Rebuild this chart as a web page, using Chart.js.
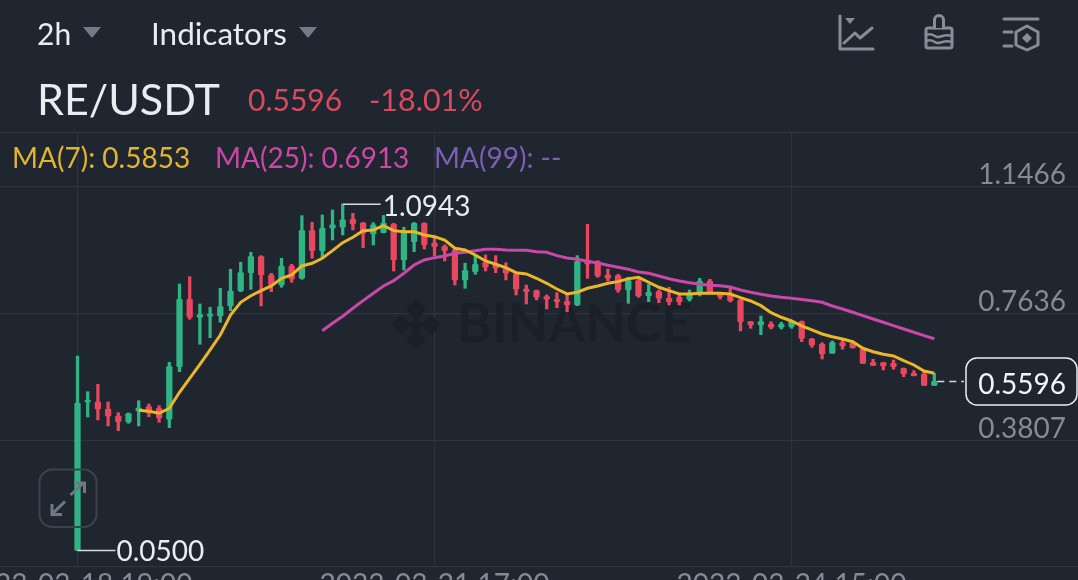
<!DOCTYPE html>
<html>
<head>
<meta charset="utf-8">
<script src="https://cdn.jsdelivr.net/npm/chart.js@4/dist/chart.umd.min.js"></script>
<style>
html,body{margin:0;padding:0;width:1078px;height:580px;overflow:hidden;background:#1f2630;font-family:Lato,sans-serif}
#c{position:absolute;left:0;top:0}
.t{position:absolute;white-space:nowrap;line-height:1}
svg{position:absolute;left:0;top:0}
</style>
</head>
<body>
<canvas id="c" width="1078" height="620" style="width:1078px;height:620px"></canvas>
<svg width="1078" height="580" viewBox="0 0 1078 580" fill="none">
  <path d="M83 27h18l-9 11z M299 27h18l-9 11z" fill="#737b88"/>
  <g stroke="#868d99" stroke-width="3" stroke-linecap="round" stroke-linejoin="round">
    <path d="M840 16V49H873"/><path d="M845 18h10l-5 6z" fill="#868d99" stroke="none"/>
    <path d="M844 43L855 33L860 38L872 28"/>
    <rect x="926" y="28" width="26" height="20" rx="2"/>
    <path d="M934.5 28V20a4.5 4.5 0 0 1 9 0V28" fill="#1f2630"/>
    <path d="M926 35c8-3 8 3 13 2s6-3 13-1M926 41c8-3 8 3 13 2s6-3 13-1" stroke-width="2.5"/>
    <path d="M1004 19H1038M1004 32H1012M1004 46H1012"/>
    <path d="M1027 26L1038 32V45L1027 50L1016 45V32Z"/>
    <path d="M1027 33l5 5l-5 5l-5-5z" fill="#868d99" stroke="none"/>
  </g>
  <rect x="39.5" y="469.5" width="57" height="57.5" rx="13" stroke="#3b434f" stroke-width="2"/>
  <g stroke="#6f7884" stroke-width="3" stroke-linejoin="miter">
    <path d="M65 501.5L52 514M52 504V514.5H62"/>
    <path d="M70.5 495L84 482.5M74 483H84.5V493"/>
  </g>
</svg>
<div class="t" style="left:37px;top:18px;font-size:30px;color:#e9ecf1">2h</div>
<div class="t" style="left:151px;top:18px;font-size:31.5px;color:#e9ecf1">Indicators</div>
<div class="t" style="left:37px;top:77px;font-size:43px;color:#e9ecf1">RE/USDT</div>
<div class="t" style="left:248px;top:84px;font-size:30px;color:#d94a5e">0.5596</div>
<div class="t" style="left:369px;top:84px;font-size:30.5px;color:#d94a5e">-18.01%</div>
<div class="t" style="left:12px;top:143px;font-size:28px;color:#e3b52f">MA(7): 0.5853</div>
<div class="t" style="left:215px;top:143px;font-size:28px;color:#cf47a6">MA(25): 0.6913</div>
<div class="t" style="left:434px;top:143px;font-size:28px;color:#7a5fb4">MA(99): --</div>
<script>
const xTickIndex = [0, 35, 70];
const xTickLabels = ["2023-03-18 19:00", "2023-03-21 17:00", "2023-03-24 15:00"];
const yTicks = [0.3807, 0.7636, 1.1466];

const opens = [0.0500,0.4976,0.4976,0.4765,0.4554,0.4373,0.4705,0.4835,0.4786,0.4455,0.6041,0.8074,0.7531,0.7561,0.7570,0.7872,0.8324,0.8876,0.9359,0.8807,0.8505,0.9078,0.8707,1.0143,0.9540,1.0215,1.0245,1.0486,1.0375,1.0043,1.0083,1.0345,0.9259,0.9811,1.0366,0.9772,0.9660,0.9561,0.8656,0.8906,0.9178,0.9108,0.9009,0.8837,0.8384,0.8333,0.8152,0.8074,0.8001,0.7902,0.9259,0.9208,0.8807,0.8786,0.8354,0.8635,0.8182,0.8303,0.8104,0.8134,0.8074,0.8255,0.8626,0.8249,0.8204,0.8053,0.7398,0.7299,0.7329,0.7229,0.7247,0.7398,0.6876,0.6717,0.6445,0.6765,0.6747,0.6566,0.6162,0.6162,0.6143,0.5993,0.5842,0.5821,0.5474];
const highs = [0.6364,0.5287,0.5510,0.4976,0.4654,0.4645,0.5016,0.4916,0.4865,0.6174,0.8535,0.8755,0.7932,0.7833,0.8405,0.8979,0.9190,0.9491,0.9389,0.8858,0.9310,0.9129,1.0595,1.0396,1.0616,1.0767,1.0943,1.0668,1.0396,1.0384,1.0601,1.0366,1.0245,1.0390,1.0384,0.9962,0.9712,0.9621,0.9160,0.9410,0.9410,0.9389,0.9178,0.8876,0.8505,0.8354,0.8204,0.8273,0.8234,0.9389,1.0336,0.9238,0.8988,0.8828,0.8737,0.8755,0.8526,0.8354,0.8436,0.8204,0.8354,0.8707,0.8677,0.8255,0.8405,0.8074,0.7400,0.7570,0.7398,0.7380,0.7398,0.7419,0.6897,0.6765,0.6816,0.6846,0.6795,0.6596,0.6264,0.6174,0.6243,0.6002,0.5920,0.5890,0.5842];
const lows = [0.0500,0.4524,0.4434,0.4253,0.4111,0.4334,0.4253,0.4533,0.4364,0.4201,0.5890,0.7471,0.6717,0.6916,0.7380,0.7730,0.8303,0.8375,0.7872,0.8303,0.8436,0.8587,0.8677,0.9310,0.9341,0.9862,1.0013,1.0164,0.9630,0.9712,1.0073,0.8927,0.8958,0.9509,0.9591,0.9389,0.9229,0.8505,0.8405,0.8828,0.8927,0.8876,0.8656,0.8204,0.7932,0.8053,0.7781,0.7820,0.7700,0.7881,0.8707,0.8737,0.8626,0.8285,0.7953,0.8134,0.8001,0.7971,0.7902,0.7902,0.8023,0.8173,0.8255,0.8083,0.7992,0.7118,0.7199,0.7006,0.7178,0.7178,0.7199,0.6795,0.6626,0.6273,0.6440,0.6566,0.6596,0.6138,0.6071,0.5942,0.5963,0.5739,0.5761,0.5468,0.5468];
const closes = [0.4946,0.5037,0.4765,0.4554,0.4382,0.4630,0.4795,0.4645,0.4494,0.6041,0.8074,0.7531,0.7609,0.7621,0.7851,0.8324,0.8876,0.9359,0.8807,0.8505,0.9078,0.8686,1.0143,0.9540,1.0215,1.0315,1.0466,1.0345,1.0064,1.0315,1.0375,0.9259,1.0094,1.0366,0.9712,0.9660,0.9540,0.8656,0.8936,0.9129,0.9039,0.9009,0.8858,0.8375,0.8303,0.8134,0.8074,0.8001,0.7902,0.9208,0.9138,0.8777,0.8707,0.8354,0.8635,0.8173,0.8285,0.8104,0.8001,0.8001,0.8264,0.8626,0.8273,0.8152,0.8032,0.7398,0.7299,0.7398,0.7229,0.7320,0.7398,0.6897,0.6696,0.6424,0.6765,0.6665,0.6614,0.6143,0.6077,0.6062,0.6041,0.5821,0.5767,0.5474,0.5596];

const ma7Start = 6;
const ma7 = [0.4726,0.4696,0.4636,0.4786,0.5269,0.5691,0.6113,0.6545,0.6997,0.7600,0.7983,0.8182,0.8333,0.8475,0.8707,0.8807,0.9078,0.9160,0.9310,0.9540,0.9781,0.9944,1.0143,1.0164,1.0293,1.0143,1.0113,1.0113,1.0013,0.9962,0.9862,0.9612,0.9561,0.9410,0.9229,0.9129,0.9027,0.8876,0.8837,0.8707,0.8556,0.8384,0.8234,0.8285,0.8405,0.8475,0.8556,0.8605,0.8695,0.8737,0.8587,0.8436,0.8333,0.8234,0.8234,0.8255,0.8255,0.8255,0.8234,0.8122,0.8023,0.7881,0.7670,0.7531,0.7419,0.7269,0.7148,0.7027,0.6946,0.6876,0.6795,0.6596,0.6493,0.6415,0.6364,0.6222,0.6092,0.5911,0.5842];
const ma25Start = 24;
const ma25 = [0.7127,0.7350,0.7561,0.7802,0.8032,0.8255,0.8475,0.8635,0.8858,0.9108,0.9259,0.9329,0.9380,0.9461,0.9491,0.9540,0.9582,0.9582,0.9561,0.9552,0.9552,0.9509,0.9491,0.9389,0.9319,0.9280,0.9220,0.9169,0.9099,0.9039,0.8979,0.8897,0.8858,0.8777,0.8695,0.8626,0.8574,0.8526,0.8496,0.8484,0.8445,0.8354,0.8285,0.8224,0.8173,0.8134,0.8104,0.8068,0.8032,0.7983,0.7872,0.7781,0.7682,0.7579,0.7480,0.7380,0.7278,0.7178,0.7079,0.6976,0.6885];

const lastPrice = 0.5596, highPrice = 1.0943, lowPrice = 0.0500;
const highIndex = 26, lowIndex = 0, lastIndex = 84;

const GREEN = "#2fb583", RED = "#e8475f", GRID = "#2e3540", BG = "#1f2630";
const colors = closes.map((c, i) => c >= opens[i] ? GREEN : RED);
const fmt = v => v.toFixed(4);

const overlay = {
  id: "overlay",
  beforeDatasetsDraw(chart) {
    const { ctx, scales: { x, y } } = chart;
    ctx.save();
    const wy = y.getPixelForValue(0.7636) + 11;
    ctx.fillStyle = "#1a2028";
    ctx.font = "bold 53px Lato";
    ctx.textAlign = "left";
    ctx.textBaseline = "middle";
    ctx.fillText("BINANCE", 457, wy);
    const cx = 416, s = 29;
    ctx.translate(cx, wy);
    ctx.rotate(Math.PI / 4);
    const u = s * 0.62;
    for (const [a, b, w] of [[-u, -u, u * 0.8], [u * 0.2, -u, u * 0.8], [-u, u * 0.2, u * 0.8], [u * 0.2, u * 0.2, u * 0.8], [-u * 0.3, -u * 0.3, u * 0.6]]) {
      ctx.fillRect(a, b, w, w);
    }
    ctx.restore();
  },
  afterDatasetsDraw(chart) {
    const { ctx, scales: { x, y } } = chart;
    ctx.save();
    ctx.font = "28px Lato";
    ctx.textBaseline = "middle";
    ctx.textAlign = "left";
    ctx.strokeStyle = "#d5d9e0";
    ctx.fillStyle = "#e9ecf1";
    ctx.lineWidth = 1.5;
    const hy = y.getPixelForValue(highPrice), hx = x.getPixelForValue(highIndex);
    ctx.beginPath(); ctx.moveTo(hx, hy); ctx.lineTo(hx + 38, hy); ctx.stroke();
    ctx.fillText(fmt(highPrice), hx + 40, hy + 3);
    const ly = y.getPixelForValue(lowPrice), lx = x.getPixelForValue(lowIndex);
    ctx.beginPath(); ctx.moveTo(lx, ly); ctx.lineTo(lx + 38, ly); ctx.stroke();
    ctx.fillText(fmt(lowPrice), lx + 39, ly + 2);
    const py = y.getPixelForValue(lastPrice), px = x.getPixelForValue(lastIndex);
    ctx.setLineDash([7, 5]);
    ctx.beginPath(); ctx.moveTo(px + 3, py); ctx.lineTo(964, py); ctx.stroke();
    ctx.setLineDash([]);
    ctx.beginPath();
    ctx.roundRect(966, py - 23.5, 111, 47, 11);
    ctx.fillStyle = BG; ctx.fill();
    ctx.strokeStyle = "#e9ecf1"; ctx.stroke();
    ctx.fillStyle = "#f2f4f7";
    ctx.textAlign = "right";
    ctx.fillText(fmt(lastPrice), 1066, py + 4);
    ctx.restore();
  }
};

new Chart(document.getElementById("c"), {
  data: {
    datasets: [
      { type: "line", order: 1, data: ma25.map((v, i) => ({ x: i + ma25Start, y: v })), borderColor: "#c948a8", borderWidth: 3, pointRadius: 0, tension: 0 },
      { type: "line", order: 0, data: ma7.map((v, i) => ({ x: i + ma7Start, y: v })), borderColor: "#eab62a", borderWidth: 3, pointRadius: 0, tension: 0 },
      { type: "bar", order: 2, grouped: false, data: closes.map((c, i) => ({ x: i, y: [opens[i], c] })), backgroundColor: colors, borderWidth: 0, borderRadius: 1, borderSkipped: false, barThickness: 5.6 },
      { type: "bar", order: 3, grouped: false, data: highs.map((h, i) => ({ x: i, y: [lows[i], h] })), backgroundColor: colors, borderWidth: 0, borderSkipped: false, barThickness: 2.6 }
    ]
  },
  options: {
    responsive: false,
    animation: false,
    events: [],
    layout: { padding: { top: 133, left: 0, right: 0, bottom: 0 } },
    plugins: { legend: { display: false }, tooltip: { enabled: false } },
    scales: {
      x: {
        type: "linear",
        offset: false,
        min: -77.5 / 10.2,
        max: (1078 - 77.5) / 10.2,
        afterFit(s) { s.height = 53; s.paddingLeft = 0; s.paddingRight = 0; },
        afterBuildTicks(s) { s.ticks = xTickIndex.map(v => ({ value: v })); },
        grid: { color: GRID, lineWidth: 1.2, drawTicks: false, offset: false },
        border: { display: false },
        ticks: {
          padding: 1, maxRotation: 0, minRotation: 0, autoSkip: false,
          color: "#848b97", font: { family: "Lato", size: 28 },
          callback: v => xTickLabels[xTickIndex.indexOf(v)]
        }
      },
      y: {
        type: "linear",
        position: "right",
        min: 0,
        max: 434 / 331.6,
        afterFit(s) { s.width = 0; s.paddingTop = 0; s.paddingBottom = 0; s.paddingLeft = 0; s.paddingRight = 0; },
        afterBuildTicks(s) { s.ticks = [0, ...yTicks, s.max].map(v => ({ value: v })); },
        grid: { color: GRID, lineWidth: 1.2, drawTicks: false },
        border: { display: false },
        ticks: {
          mirror: true, padding: -12, labelOffset: -12,
          color: "#848b97", font: { family: "Lato", size: 28 },
          callback: v => yTicks.includes(v) ? fmt(v) : ""
        }
      }
    }
  },
  plugins: [overlay]
});
</script>
</body>
</html>
